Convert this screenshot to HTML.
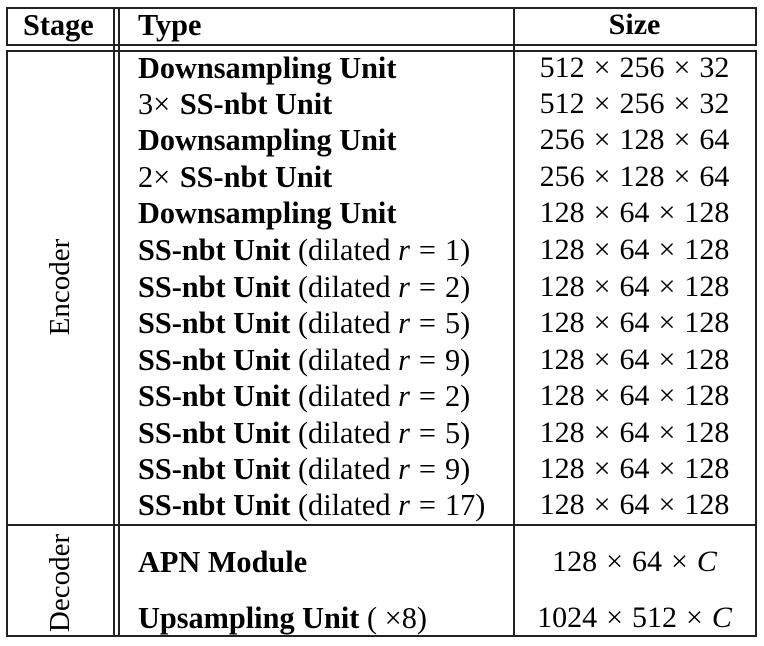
<!DOCTYPE html>
<html><head><meta charset="utf-8"><style>
body{margin:0;width:764px;height:646px;background:#fff;position:relative;font-family:"Liberation Serif",serif;color:#000;overflow:hidden}
.l{position:absolute;background:#222}
.t{position:absolute;white-space:nowrap;font-size:30.3px;line-height:30px}
.b{font-weight:bold}
.c{position:absolute;left:513px;width:243px;text-align:center;white-space:nowrap;font-size:30px;line-height:30px}
.x{display:inline-block;margin:0 9px}
.t .x{margin:0 2px 0 0}
i{font-style:italic}
.e{display:inline-block;margin:0 9px}
</style></head><body>
<div class="l" style="left:6px;top:7px;width:751px;height:1.5px"></div>
<div class="l" style="left:6px;top:44px;width:751px;height:1.5px"></div>
<div class="l" style="left:6px;top:50px;width:751px;height:1.5px"></div>
<div class="l" style="left:6px;top:524px;width:751px;height:1.5px"></div>
<div class="l" style="left:6px;top:635px;width:751px;height:1.5px"></div>
<div class="l" style="left:6px;top:7px;width:1.5px;height:38px"></div>
<div class="l" style="left:6px;top:50px;width:1.5px;height:586px"></div>
<div class="l" style="left:755px;top:7px;width:1.5px;height:38px"></div>
<div class="l" style="left:755px;top:50px;width:1.5px;height:586px"></div>
<div class="l" style="left:113px;top:7px;width:1.5px;height:629px"></div>
<div class="l" style="left:118px;top:7px;width:1.5px;height:629px"></div>
<div class="l" style="left:513px;top:7px;width:1.5px;height:629px"></div>
<div class="t b" style="left:23px;top:10px">Stage</div>
<div class="t b" style="left:138px;top:10px">Type</div>
<div class="c b" style="top:10px;font-size:30px">Size</div>
<div class="t" style="left:60px;top:287px;transform:translate(-50%,-50%) rotate(-90deg);font-size:29px">Encoder</div>
<div class="t" style="left:60px;top:583px;transform:translate(-50%,-50%) rotate(-90deg);font-size:29px">Decoder</div>

<div class="t b" style="left:138px;top:53px">Downsampling Unit</div><div class="c" style="top:53px">512<span class="x">×</span>256<span class="x">×</span>32</div>
<div class="t" style="left:138px;top:89px">3<span class="x">×</span> <b>SS-nbt Unit</b></div><div class="c" style="top:89px">512<span class="x">×</span>256<span class="x">×</span>32</div>
<div class="t b" style="left:138px;top:125px">Downsampling Unit</div><div class="c" style="top:125px">256<span class="x">×</span>128<span class="x">×</span>64</div>
<div class="t" style="left:138px;top:162px">2<span class="x">×</span> <b>SS-nbt Unit</b></div><div class="c" style="top:162px">256<span class="x">×</span>128<span class="x">×</span>64</div>
<div class="t b" style="left:138px;top:198px">Downsampling Unit</div><div class="c" style="top:198px">128<span class="x">×</span>64<span class="x">×</span>128</div>
<div class="t" style="left:138px;top:235px"><b>SS-nbt Unit</b> (dilated <i>r</i><span class="e">=</span>1)</div><div class="c" style="top:235px">128<span class="x">×</span>64<span class="x">×</span>128</div>
<div class="t" style="left:138px;top:272px"><b>SS-nbt Unit</b> (dilated <i>r</i><span class="e">=</span>2)</div><div class="c" style="top:272px">128<span class="x">×</span>64<span class="x">×</span>128</div>
<div class="t" style="left:138px;top:308px"><b>SS-nbt Unit</b> (dilated <i>r</i><span class="e">=</span>5)</div><div class="c" style="top:308px">128<span class="x">×</span>64<span class="x">×</span>128</div>
<div class="t" style="left:138px;top:345px"><b>SS-nbt Unit</b> (dilated <i>r</i><span class="e">=</span>9)</div><div class="c" style="top:345px">128<span class="x">×</span>64<span class="x">×</span>128</div>
<div class="t" style="left:138px;top:381px"><b>SS-nbt Unit</b> (dilated <i>r</i><span class="e">=</span>2)</div><div class="c" style="top:381px">128<span class="x">×</span>64<span class="x">×</span>128</div>
<div class="t" style="left:138px;top:418px"><b>SS-nbt Unit</b> (dilated <i>r</i><span class="e">=</span>5)</div><div class="c" style="top:418px">128<span class="x">×</span>64<span class="x">×</span>128</div>
<div class="t" style="left:138px;top:454px"><b>SS-nbt Unit</b> (dilated <i>r</i><span class="e">=</span>9)</div><div class="c" style="top:454px">128<span class="x">×</span>64<span class="x">×</span>128</div>
<div class="t" style="left:138px;top:490px"><b>SS-nbt Unit</b> (dilated <i>r</i><span class="e">=</span>17)</div><div class="c" style="top:490px">128<span class="x">×</span>64<span class="x">×</span>128</div>
<div class="t b" style="left:138px;top:547px">APN Module</div><div class="c" style="top:547px">128<span class="x">×</span>64<span class="x">×</span><i>C</i></div>
<div class="t" style="left:138px;top:603px"><b>Upsampling Unit</b> ( ×8)</div><div class="c" style="top:603px">1024<span class="x">×</span>512<span class="x">×</span><i>C</i></div>
</body></html>
